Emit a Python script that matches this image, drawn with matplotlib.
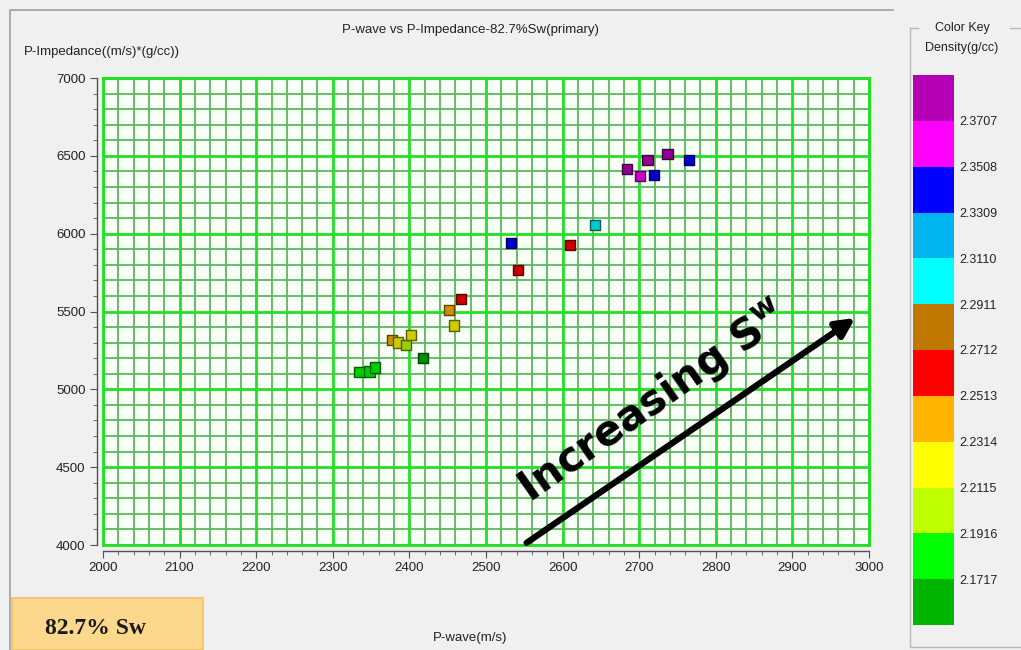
import matplotlib
matplotlib.use('Agg')
import matplotlib.pyplot as plt
from matplotlib.colors import ListedColormap, BoundaryNorm, to_rgb
from matplotlib.cm import ScalarMappable
from matplotlib.patches import Rectangle
from matplotlib.lines import Line2D
from matplotlib.ticker import MultipleLocator

# Dane
pwave = [2335, 2348, 2355, 2418, 2377, 2385, 2396, 2402, 2452, 2467, 2458,
         2533, 2542, 2610, 2642, 2684, 2701, 2711, 2719, 2737, 2765]
pimpedance = [5110, 5115, 5140, 5200, 5318, 5300, 5285, 5350, 5510, 5580, 5410,
              5940, 5767, 5927, 6055, 6416, 6370, 6473, 6377, 6512, 6473]
density = [2.18, 2.18, 2.18, 2.165, 2.235, 2.22, 2.205, 2.22, 2.24, 2.26, 2.22,
           2.34, 2.26, 2.26, 2.30, 2.38, 2.36, 2.38, 2.34, 2.38, 2.34]

# Skala kolorow (od dolu do gory)
key_colors = ['#00b400', '#00ff00', '#c0ff00', '#ffff00', '#ffb400', '#ff0000',
              '#c07800', '#00ffff', '#00b4f0', '#0000ff', '#ff00ff', '#b400b4']
key_bounds = [2.1518, 2.1717, 2.1916, 2.2115, 2.2314, 2.2513, 2.2712,
              2.2911, 2.3110, 2.3309, 2.3508, 2.3707, 2.3906]
key_labels = ['2.1717', '2.1916', '2.2115', '2.2314', '2.2513', '2.2712',
              '2.2911', '2.3110', '2.3309', '2.3508', '2.3707']

# Strzalka "Increasing Sw" (wspolrzedne danych)
arrow_start = (2553, 4014)
arrow_end = (2982, 5459)
label_pos = (2718, 4920)

W, H = 1021, 650
plt.rcParams['font.family'] = ['Liberation Sans', 'DejaVu Sans']
plt.rcParams['mathtext.default'] = 'bf'

fig = plt.figure(figsize=(W / 100, H / 100), dpi=100, facecolor='#f0f0f0')


def px(x, y):
    return x / W, 1 - y / H


# Ramki paneli
fig.add_artist(Line2D([10 / W, 10 / W, 893 / W],
                      [0, 1 - 10 / H, 1 - 10 / H], color='#a0a0a0', lw=1.2))
fig.add_artist(Line2D([910 / W, 910 / W, 1.0], [1 - 28 / H, 1 - 647 / H, 1 - 647 / H],
                      color='#b8b8b8', lw=1))
fig.add_artist(Line2D([910 / W, 918 / W], [1 - 28 / H] * 2, color='#b8b8b8', lw=1))
fig.add_artist(Line2D([1010 / W, 1.0], [1 - 28 / H] * 2, color='#b8b8b8', lw=1))

ax = fig.add_axes([103 / W, 1 - 545 / H, (869 - 103) / W, (545 - 78) / H])
ax.set_facecolor('#f7fff7')

cmap = ListedColormap(key_colors)
norm = BoundaryNorm(key_bounds, cmap.N)

# kolory punktow nieco przygaszone, obwodka ciemniejsza
face = [tuple(c * 0.8 for c in to_rgb(cmap(norm(d)))) for d in density]
edge = [tuple(c * 0.45 for c in f) for f in face]
ax.scatter(pwave, pimpedance, c=face, marker='s', s=55, edgecolors=edge,
           linewidths=1.0, zorder=3)

ax.set_xlim(2000, 3000)
ax.set_ylim(4000, 7000)
ax.xaxis.set_major_locator(MultipleLocator(100))
ax.xaxis.set_minor_locator(MultipleLocator(20))
ax.yaxis.set_major_locator(MultipleLocator(500))
ax.yaxis.set_minor_locator(MultipleLocator(100))
ax.grid(which='minor', color='#5cb85c', lw=1.3, zorder=0)
ax.grid(which='major', color='#22e022', lw=2.0, zorder=1)
ax.set_axisbelow(True)

for s in ['top', 'right']:
    ax.spines[s].set_color('#22e022')
    ax.spines[s].set_linewidth(2.0)
for s in ['left', 'bottom']:
    ax.spines[s].set_position(('outward', 4))
    ax.spines[s].set_color('#505050')
    ax.spines[s].set_linewidth(1.0)
ax.add_patch(Rectangle((0, 0), 1, 1, transform=ax.transAxes, fill=False,
                       ec='#22e022', lw=2.0, zorder=2, clip_on=False))
ax.tick_params(which='major', length=5, color='#505050', labelsize=9.5,
               labelcolor='#222222')
ax.tick_params(which='minor', length=3, color='#505050')

# Strzalka i napis
ax.annotate('', xy=arrow_end, xytext=arrow_start,
            arrowprops=dict(arrowstyle='-|>', lw=4.5, color='black',
                            mutation_scale=28, shrinkA=0, shrinkB=0), zorder=4)
ax.text(label_pos[0], label_pos[1], r'Increasing S$^{w}$', rotation=35,
        rotation_mode='anchor', ha='center', va='center', fontsize=30,
        fontweight='bold', family='DejaVu Sans', color='black', zorder=4)

# Teksty
fig.text(*px(470, 30), 'P-wave vs P-Impedance-82.7%Sw(primary)', ha='center',
         va='center', fontsize=9.5, color='#222222')
fig.text(*px(24, 52), 'P-Impedance((m/s)*(g/cc))', ha='left', va='center',
         fontsize=9.5, color='#222222')
fig.text(*px(470, 638), 'P-wave(m/s)', ha='center', va='center', fontsize=9.5,
         color='#222222')

# Pole "82.7% Sw"
fig.add_artist(Rectangle(px(12, 650), 191 / W, 52 / H, fc='#fcd88d',
                         ec='#f0c060', lw=1.2))
fig.text(*px(95, 628), '82.7% Sw', ha='center', va='center', fontsize=17,
         fontweight='bold', family='Liberation Serif', color='#1a1a1a')

# Legenda kolorow
fig.text(*px(962, 28), 'Color Key', ha='center', va='center', fontsize=9,
         color='#222222')
fig.text(*px(962, 48), 'Density(g/cc)', ha='center', va='center', fontsize=9,
         color='#222222')
cax = fig.add_axes([913 / W, 1 - 625 / H, 41 / W, 550 / H])
sm = ScalarMappable(norm=norm, cmap=cmap)
cb = fig.colorbar(sm, cax=cax, boundaries=key_bounds, ticks=key_bounds[1:-1])
cb.ax.set_yticklabels(key_labels)
cb.outline.set_visible(False)
cb.ax.minorticks_off()
cb.ax.tick_params(length=0, labelsize=9, labelcolor='#222222', pad=4)

fig.savefig('out.png', dpi=100, facecolor=fig.get_facecolor())
